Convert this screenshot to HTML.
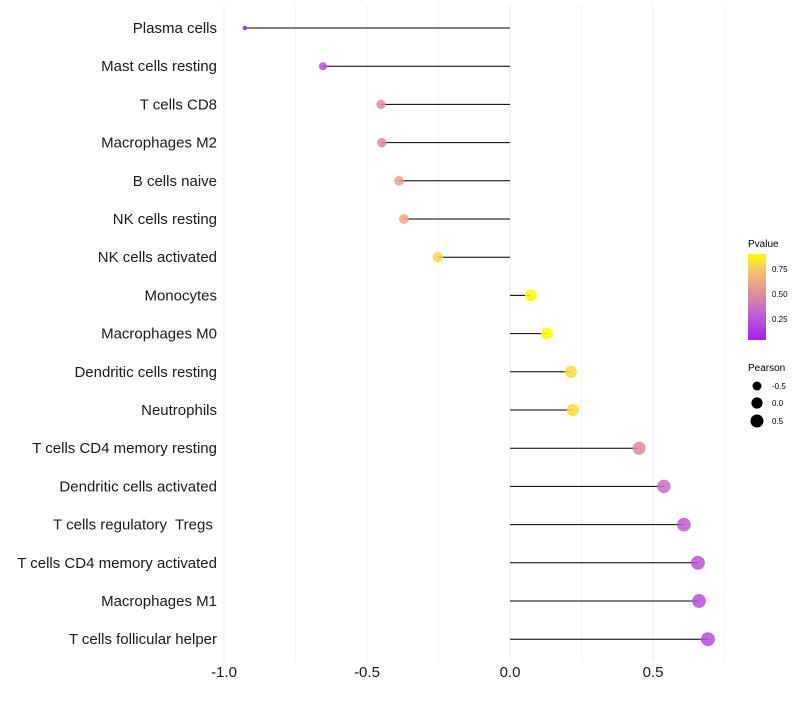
<!DOCTYPE html>
<html><head><meta charset="utf-8"><style>
body{margin:0;background:#fff;font-family:"Liberation Sans",sans-serif;}
</style></head><body>
<svg id="chart" width="800" height="700" xmlns="http://www.w3.org/2000/svg">
<defs><linearGradient id="pg" x1="0" y1="1" x2="0" y2="0">
<stop offset="0" stop-color="#A020F0"/><stop offset="0.3" stop-color="#C060D0"/><stop offset="0.55" stop-color="#E09098"/><stop offset="0.8" stop-color="#F5C070"/><stop offset="1" stop-color="#FFFF00"/></linearGradient></defs>
<g id="grid"></g><g id="marks"></g><g id="labels"></g>
<g font-size="10">
<text x="748" y="247">Pvalue</text>
<rect x="748" y="254" width="18" height="86" fill="url(#pg)"/>
<text x="772" y="272" font-size="8">0.75</text>
<text x="772" y="297" font-size="8">0.50</text>
<text x="772" y="322" font-size="8">0.25</text>
<text x="748" y="371">Pearson</text>
<circle cx="757" cy="386" r="4.5" fill="#000"/>
<text x="772" y="389" font-size="8">-0.5</text>
<circle cx="757" cy="403" r="5.6" fill="#000"/>
<text x="772" y="406" font-size="8">0.0</text>
<circle cx="757" cy="421" r="6.5" fill="#000"/>
<text x="772" y="424" font-size="8">0.5</text>
</g>
</svg>
<script>
const categories=["Plasma cells","Mast cells resting","T cells CD8","Macrophages M2","B cells naive","NK cells resting","NK cells activated","Monocytes","Macrophages M0","Dendritic cells resting","Neutrophils","T cells CD4 memory resting","Dendritic cells activated","T cells regulatory  Tregs ","T cells CD4 memory activated","Macrophages M1","T cells follicular helper"];
const pearson=[-0.927,-0.654,-0.451,-0.448,-0.388,-0.371,-0.252,0.073,0.129,0.213,0.220,0.451,0.538,0.608,0.657,0.661,0.692];
const pvalues=[0.02,0.25,0.5,0.5,0.6,0.62,0.78,0.98,0.93,0.8,0.8,0.5,0.35,0.28,0.24,0.24,0.22];
const xTicks=[-1.0,-0.5,0.0,0.5];
const xTickLabels=["-1.0","-0.5","0.0","0.5"];
const NS="http://www.w3.org/2000/svg";
const x=v=>510+286*v;
const y=i=>28+i*38.2;
function mk(t,a,p){const e=document.createElementNS(NS,t);for(const k in a)e.setAttribute(k,a[k]);p.appendChild(e);return e;}
const stops=[[0,[160,32,240]],[0.3,[192,96,208]],[0.55,[224,144,152]],[0.8,[245,192,112]],[1,[255,255,0]]];
function col(p){let t=(p-0.04)/0.86;t=Math.max(0,Math.min(1,t));for(let k=1;k<stops.length;k++){if(t<=stops[k][0]){const a=stops[k-1],b=stops[k];const f=(t-a[0])/(b[0]-a[0]);return 'rgb('+a[1].map((v,j)=>Math.round(v+(b[1][j]-v)*f))+')';}}return 'rgb(255,255,0)';}
const rad=v=>2+5*Math.sqrt(Math.max(0,(v+0.93)/1.62));
const grid=document.getElementById('grid'),marks=document.getElementById('marks'),labels=document.getElementById('labels');
for(let g=-1;g<=0.76;g+=0.25){const gl=mk('line',{x1:x(g),x2:x(g),y1:5,y2:662,stroke:'#ececec','stroke-width':Math.abs(g*2-Math.round(g*2))<0.01?1:0.6},grid);

}
categories.forEach((c,i)=>{
const hl=mk('line',{x1:x(0),x2:x(pearson[i]),y1:y(i),y2:y(i),stroke:'#ececec','stroke-width':1},grid);


const l=mk('line',{x1:x(0),x2:x(pearson[i]),y1:y(i),y2:y(i),stroke:'#000','stroke-width':1},marks);


const p=mk('circle',{cx:x(pearson[i]),cy:y(i),r:rad(pearson[i]),fill:col(pvalues[i]),'fill-opacity':0.85},marks);


const t=mk('text',{x:217,y:y(i)+5,'text-anchor':'end','font-size':15,fill:'#1a1a1a',style:'white-space:pre'},labels);
t.textContent=c;


});
xTicks.forEach((v,i)=>{const t=mk('text',{x:x(v),y:677,'text-anchor':'middle','font-size':15,fill:'#1a1a1a'},labels);
t.textContent=xTickLabels[i];

});
</script>
</body></html>
